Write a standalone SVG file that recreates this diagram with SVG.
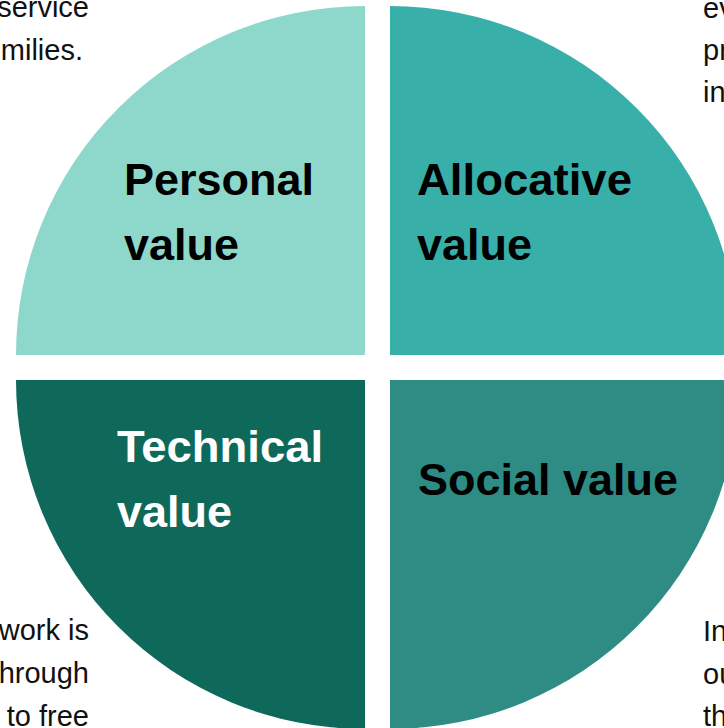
<svg xmlns="http://www.w3.org/2000/svg" width="724" height="728" viewBox="0 0 724 728">
  <style>
    .label { font-family: "Liberation Sans", Arial, sans-serif; font-weight: bold; font-size: 45px; }
    .dark { fill: #000000; }
    .light { fill: #ffffff; }
    .body { font-family: "Liberation Sans", Arial, sans-serif; font-size: 29px; fill: #111111; }
    .end { text-anchor: end; }
  </style>
  <rect width="724" height="728" fill="#ffffff"/>

  <!-- Side paragraphs (partly outside the frame) -->
  <g id="text-top-left">
    <text class="body end" x="89" y="17">service</text>
    <text class="body end" x="83" y="60">milies.</text>
  </g>
  <g id="text-top-right">
    <text class="body" x="703" y="18">ev</text>
    <text class="body" x="703" y="60">pr</text>
    <text class="body" x="703" y="102">in</text>
  </g>
  <g id="text-bottom-left">
    <text class="body end" x="89" y="640">work is</text>
    <text class="body end" x="89" y="683">hrough</text>
    <text class="body end" x="89" y="726">to free</text>
  </g>
  <g id="text-bottom-right">
    <text class="body" x="703" y="641">In</text>
    <text class="body" x="703" y="684">ou</text>
    <text class="body" x="703" y="726">th</text>
  </g>

  <!-- Four quadrants of the value circle -->
  <g id="personal-value">
    <path d="M365,355 L16,355 A349,349 0 0 1 365,6 Z" fill="#8ED8CB"/>
    <text class="label dark" x="124" y="195">Personal</text>
    <text class="label dark" x="124" y="260">value</text>
  </g>
  <g id="allocative-value">
    <path d="M390,355 L390,6 A349,349 0 0 1 739,355 Z" fill="#38AFA8"/>
    <text class="label dark" x="417" y="195" textLength="215" lengthAdjust="spacingAndGlyphs">Allocative</text>
    <text class="label dark" x="417" y="260">value</text>
  </g>
  <g id="technical-value">
    <path d="M365,380 L365,729 A349,349 0 0 1 16,380 Z" fill="#0F695B"/>
    <text class="label light" x="117" y="462" textLength="206" lengthAdjust="spacingAndGlyphs">Technical</text>
    <text class="label light" x="117" y="527">value</text>
  </g>
  <g id="social-value">
    <path d="M390,380 L739,380 A349,349 0 0 1 390,729 Z" fill="#2E8C85"/>
    <text class="label dark" x="418" y="495" textLength="260" lengthAdjust="spacingAndGlyphs">Social value</text>
  </g>
</svg>
